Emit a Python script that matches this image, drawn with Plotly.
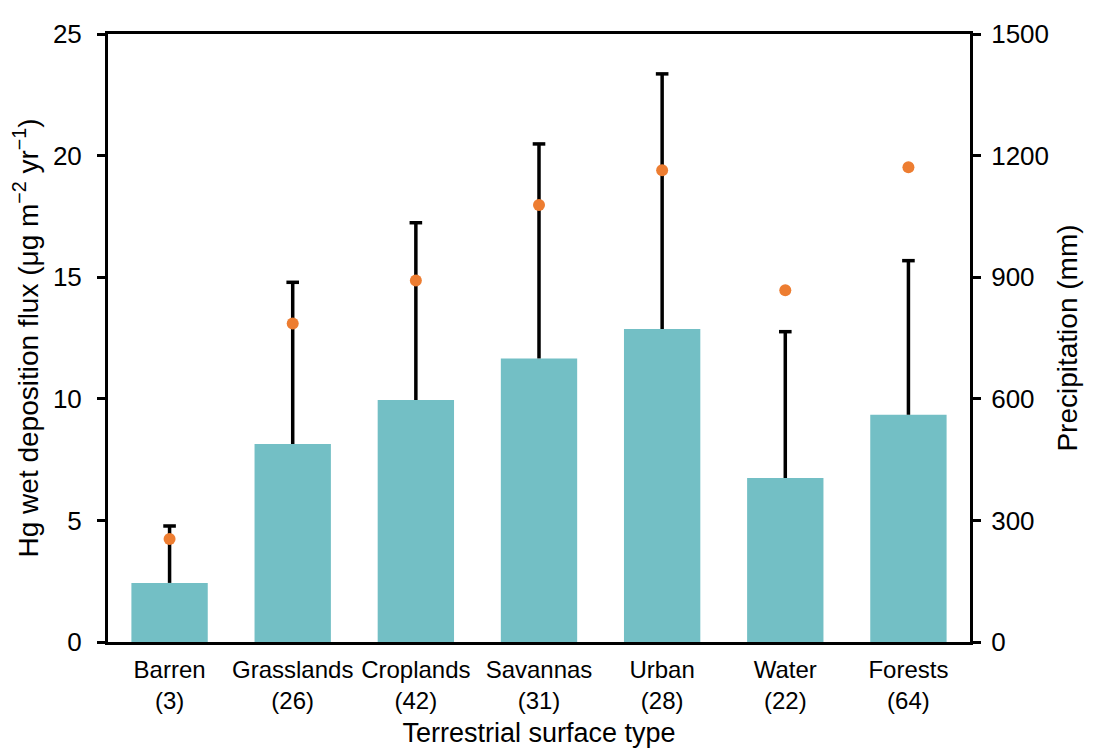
import plotly.graph_objects as go

categories = ["Barren<br>(3)", "Grasslands<br>(26)", "Croplands<br>(42)", "Savannas<br>(31)",
              "Urban<br>(28)", "Water<br>(22)", "Forests<br>(64)"]
hg_flux = [2.43, 8.14, 9.95, 11.66, 12.87, 6.74, 9.34]
hg_err = [2.34, 6.65, 7.29, 8.82, 10.49, 6.02, 6.34]
precip = [254, 786, 892, 1078, 1164, 868, 1171]

FONT = "Liberation Sans, Arial, sans-serif"

# error bar stems (upper only), built from the data arrays
ex, ey = [], []
for c, v, e in zip(categories, hg_flux, hg_err):
    ex += [c, c, None]
    ey += [v, v + e, None]
tops = [v + e for v, e in zip(hg_flux, hg_err)]

fig = go.Figure()
fig.add_trace(go.Bar(
    x=categories, y=hg_flux,
    marker=dict(color="#73BFC5", line=dict(width=0)),
    width=0.62, showlegend=False, hoverinfo="skip",
))
fig.add_trace(go.Scatter(
    x=ex, y=ey, mode="lines", line=dict(color="black", width=3.5),
    showlegend=False, hoverinfo="skip",
))
fig.add_trace(go.Scatter(
    x=categories, y=tops, mode="markers",
    marker=dict(symbol="line-ew", size=9, line=dict(color="black", width=3.5)),
    showlegend=False,
))
fig.add_trace(go.Scatter(
    x=categories, y=precip, yaxis="y2", mode="markers",
    marker=dict(color="#ED7D31", size=12),
    showlegend=False,
))

fig.update_layout(
    width=1080, height=740,
    margin=dict(l=100, r=118, t=26, b=106),
    plot_bgcolor="white", paper_bgcolor="white",
    font=dict(family=FONT, color="black"),
    xaxis=dict(
        showline=True, linecolor="black", linewidth=3, mirror=True,
        ticks="", tickfont=dict(size=24), automargin=False, ticklabelstandoff=4,
        title=dict(text="Terrestrial surface type", font=dict(size=27), standoff=23),
    ),
    yaxis=dict(
        range=[0, 25], tickvals=[0, 5, 10, 15, 20, 25],
        showline=True, linecolor="black", linewidth=3,
        ticks="outside", ticklen=8, tickwidth=3, tickcolor="black",
        showgrid=False, zeroline=False, tickfont=dict(size=26), automargin=False,
        ticklabelstandoff=10,
        title=dict(text="Hg wet deposition flux (μg m<sup>−2</sup> yr<sup>−1</sup>)",
                   font=dict(size=28), standoff=12),
    ),
    yaxis2=dict(
        range=[0, 1500], tickvals=[0, 300, 600, 900, 1200, 1500],
        overlaying="y", side="right",
        showline=True, linecolor="black", linewidth=3,
        ticks="outside", ticklen=8, tickwidth=3, tickcolor="black",
        showgrid=False, zeroline=False, tickfont=dict(size=26), automargin=False,
        ticklabelstandoff=5,
        title=dict(text="Precipitation (mm)", font=dict(size=28), standoff=10),
    ),
)

fig.write_html("out.html")
